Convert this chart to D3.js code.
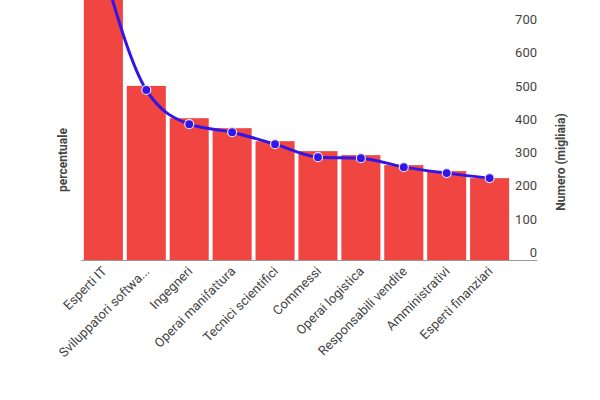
<!DOCTYPE html>
<html>
<head>
<meta charset="utf-8">
<script src="https://cdn.jsdelivr.net/npm/d3@7"></script>
<style>
  body { margin: 0; background: #fff; }
  text { font-family: Roboto, "Noto Sans", sans-serif; }
</style>
</head>
<body>
<svg id="chart" width="600" height="400"></svg>
<script>
var categories = ["Esperti IT", "Sviluppatori softwa...", "Ingegneri", "Operai manifattura", "Tecnici scientifici",
    "Commessi", "Operai logistica", "Responsabili vendite", "Amministrativi", "Esperti finanziari"];
var barValues = [950, 523, 426, 396, 357, 327, 315, 285, 267, 246];
var lineValues = [873, 511, 408, 384, 348, 309, 306, 279, 261, 246];
var rightTicks = [0, 100, 200, 300, 400, 500, 600, 700];

var svg = d3.select("#chart");
var baseY = 260, topY = 27;

var x = d3.scaleBand().domain(categories).range([83, 510]).paddingInner(0.09).paddingOuter(0.02);
var y = d3.scaleLinear().domain([0, 700]).range([baseY, topY]);

var plot = svg.append("g");

// bars
plot.selectAll("rect.bar")
    .data(categories)
    .enter()
    .append("rect")
    .attr("class", "bar")
    .attr("x", function (d) { return x(d); })
    .attr("width", x.bandwidth())
    .attr("y", function (d, i) { return Math.max(-5, y(barValues[i])); })
    .attr("height", function (d, i) { return baseY - Math.max(-5, y(barValues[i])); })
    .attr("fill", "#f04541");

// baseline
svg.append("line")
    .attr("x1", 81).attr("x2", 537)
    .attr("y1", baseY + 0.5).attr("y2", baseY + 0.5)
    .attr("stroke", "#999").attr("stroke-width", 1);

// right axis labels
svg.selectAll("text.rt")
    .data(rightTicks)
    .enter()
    .append("text")
    .attr("class", "rt")
    .attr("x", 537)
    .attr("y", function (d) { return y(d) - 3; })
    .attr("text-anchor", "end")
    .attr("font-size", 13)
    .attr("fill", "#444")
    .text(function (d) { return d; });

// line
var line = d3.line()
    .x(function (d, i) { return x(categories[i]) + x.bandwidth() / 2; })
    .y(function (d) { return y(d); })
    .curve(d3.curveMonotoneX);

plot.append("path")
    .datum(lineValues)
    .attr("d", line)
    .attr("fill", "none")
    .attr("stroke", "#3315e8")
    .attr("stroke-width", 3);

plot.selectAll("circle.pt")
    .data(lineValues)
    .enter()
    .append("circle")
    .attr("class", "pt")
    .attr("cx", function (d, i) { return x(categories[i]) + x.bandwidth() / 2; })
    .attr("cy", function (d) { return y(d); })
    .attr("r", 4.5)
    .attr("fill", "#3315e8")
    .attr("stroke", "#e0e0f0")
    .attr("stroke-width", 1.2);

// x labels
svg.selectAll("text.xl")
    .data(categories)
    .enter()
    .append("text")
    .attr("class", "xl")
    .attr("transform", function (d) {
        return "translate(" + (x(d) + x.bandwidth() / 2 + 4) + "," + (baseY + 12) + ") rotate(-45)";
    })
    .attr("text-anchor", "end")
    .attr("font-size", 13)
    .attr("fill", "#444")
    .text(function (d) { return d; });

// axis titles
svg.append("text")
    .attr("transform", "translate(67,160) rotate(-90)")
    .attr("text-anchor", "middle")
    .attr("font-size", 12)
    .attr("font-weight", "bold")
    .attr("fill", "#444")
    .text("percentuale");

svg.append("text")
    .attr("transform", "translate(565,162) rotate(-90)")
    .attr("text-anchor", "middle")
    .attr("font-size", 12)
    .attr("font-weight", "bold")
    .attr("fill", "#444")
    .text("Numero (migliaia)");
</script>
</body>
</html>
